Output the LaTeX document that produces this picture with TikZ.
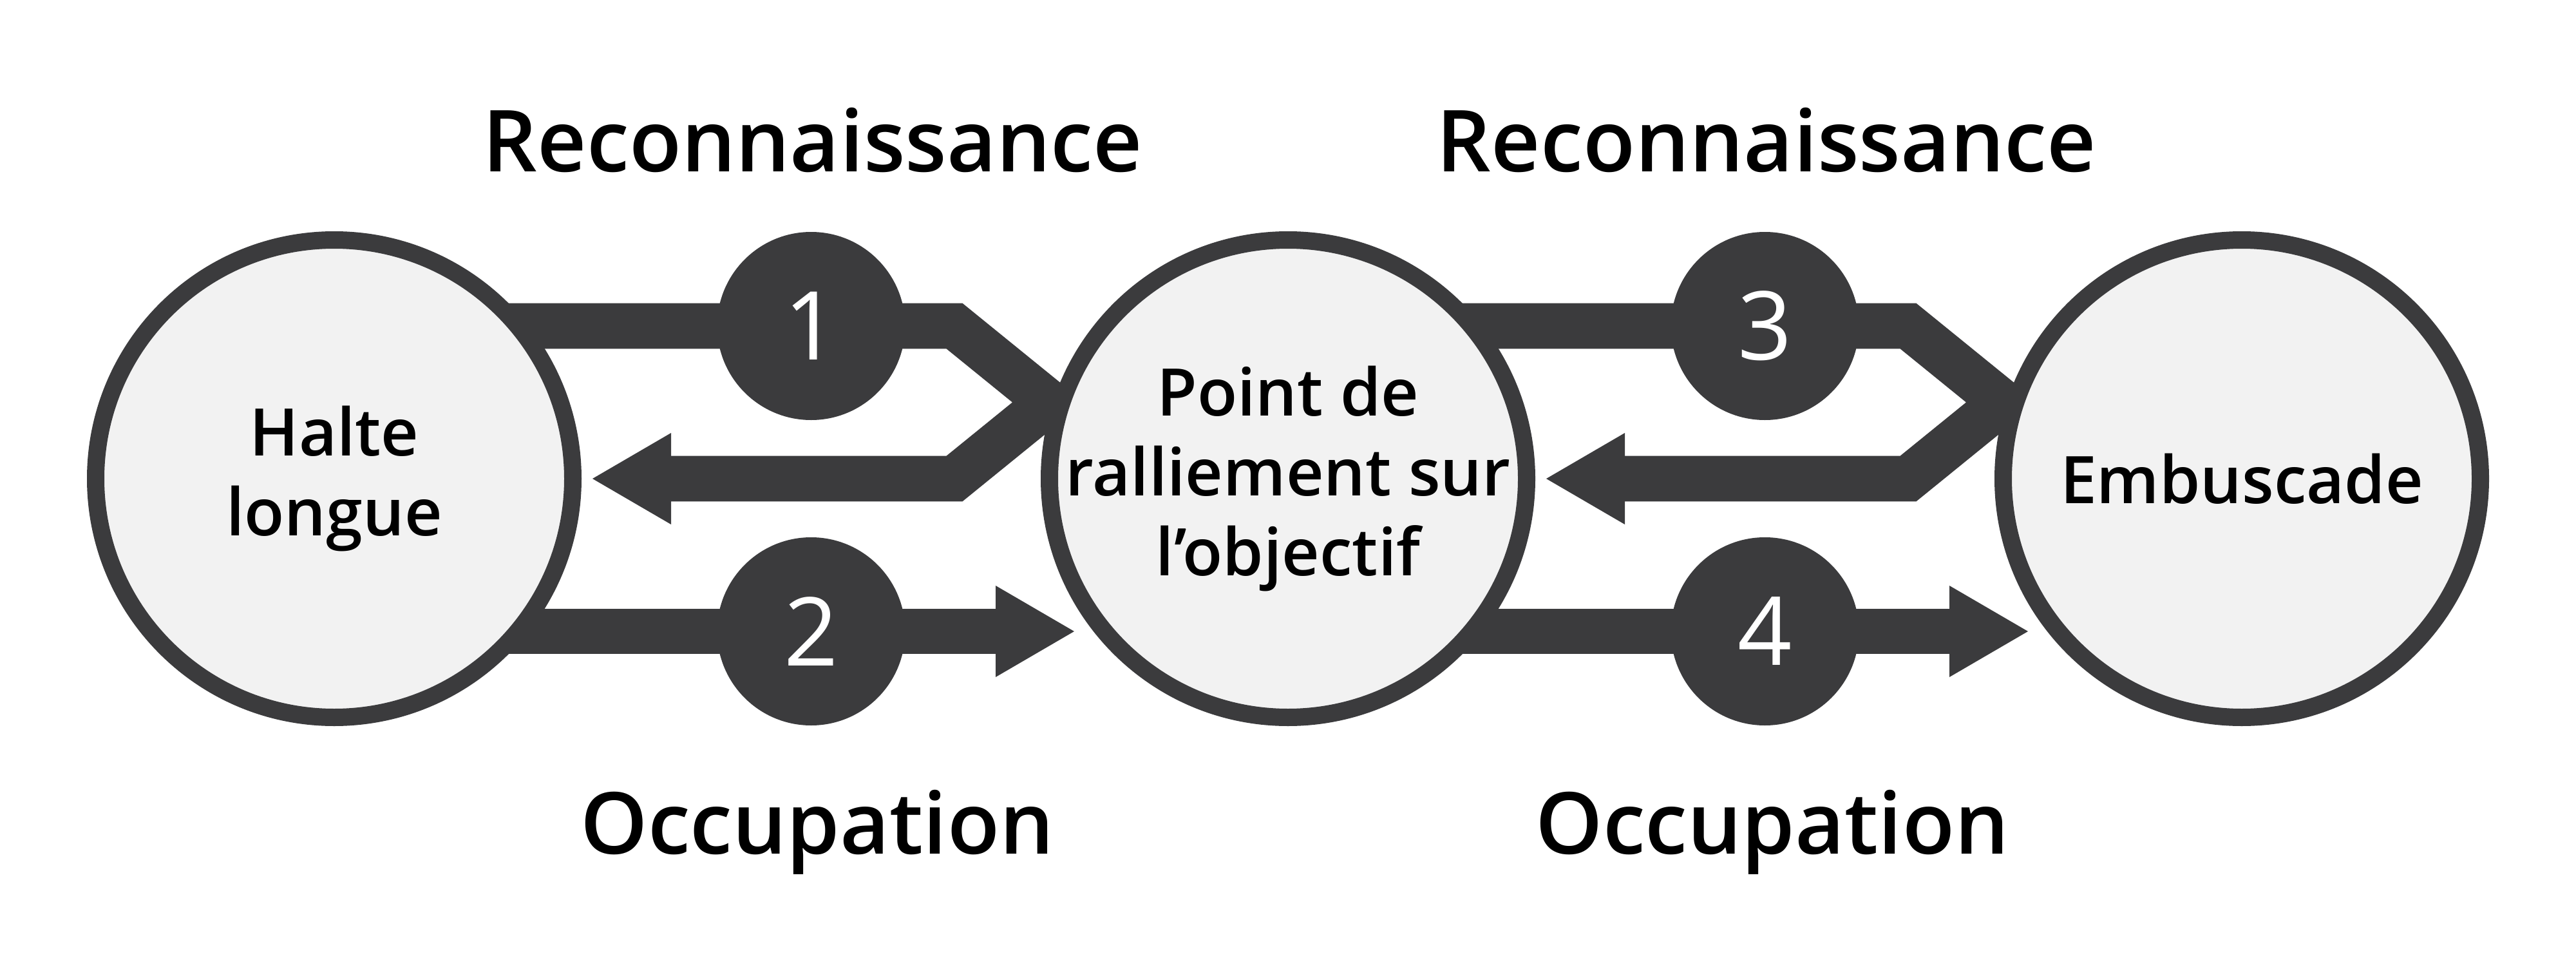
\documentclass[tikz,border=0pt]{standalone}
\usepackage{fontspec}
\IfFontExistsTF{Open Sans Semibold}
  {\newfontfamily\diagfont{Open Sans Semibold}}
  {\newfontfamily\basefont{Open Sans}\def\diagfont{\basefont\bfseries}}
\newfontfamily\numfont{Open Sans}
\usetikzlibrary{arrows.meta, positioning, backgrounds}
\definecolor{darkgrey}{RGB}{59,59,61}
\definecolor{lightgrey}{RGB}{242,242,242}

\begin{document}
\begin{tikzpicture}[
    place/.style={circle, draw=darkgrey, line width=0.27cm, fill=lightgrey, minimum size=7.41cm, inner sep=-1cm, align=center, font=\diagfont\fontsize{29}{35.4}\selectfont},
    badge/.style={circle, fill=darkgrey, minimum size=2.92cm, inner sep=0pt, text=white, font=\numfont\fontsize{42}{42}\selectfont},
    phase/.style={anchor=base, font=\diagfont\fontsize{37.8}{40}\selectfont},
    band/.style={draw=darkgrey, line width=0.706cm, line join=miter, -{Triangle[width=1.42cm, length=1.22cm, line width=0pt]}}
]
\useasboundingbox (0,-7.43) rectangle (40,7.43);
% Positions
\node[place] (halte) at (5.19,0) {Halte\\longue};
\node[place] (ralliement) at (20,0) {Point de\\ralliement sur\\l’objectif};
\node[place] (embuscade) at (34.81,0) {Embuscade};
% Steps
\node[badge] (n1) at (12.595,2.37) {1};
\node[badge] (n2) at (12.595,-2.37) {2};
\node[badge] (n3) at (27.405,2.37) {3};
\node[badge] (n4) at (27.405,-2.37) {4};
% Phases
\node[phase] (reco1) at (12.62,4.76) {Reconnaissance};
\node[phase] (occu1) at (12.69,-5.82) {Occupation};
\node[phase] (reco2) at (27.43,4.76) {Reconnaissance};
\node[phase] (occu2) at (27.52,-5.82) {Occupation};
% Arrow ends
\coordinate (back1) at (9.20,0);
\coordinate (fwd2) at (16.68,-2.37);
\coordinate (back3) at (24.01,0);
\coordinate (fwd4) at (31.49,-2.37);
% Bands
\begin{scope}[on background layer]
\draw[band] (halte |- n1) -- (n1.center) -- ++(2.225,0) -- ++(1.46,-1.185) -- ++(-1.46,-1.185) -- (back1);
\draw[band] (halte |- n2) -- (n2.center) -- (fwd2);
\draw[band] (ralliement |- n3) -- (n3.center) -- ++(2.225,0) -- ++(1.46,-1.185) -- ++(-1.46,-1.185) -- (back3);
\draw[band] (ralliement |- n4) -- (n4.center) -- (fwd4);
\end{scope}
\end{tikzpicture}
\end{document}
